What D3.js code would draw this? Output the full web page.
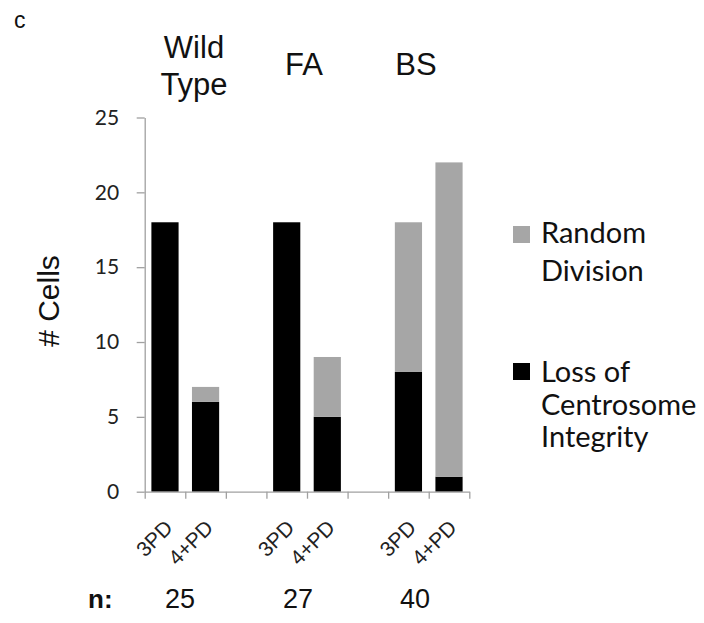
<!DOCTYPE html>
<html>
<head>
<meta charset="utf-8">
<script src="https://cdn.jsdelivr.net/npm/d3@7"></script>
<style>
  body { margin: 0; background: #fff; }
  svg { display: block; }
</style>
</head>
<body>
<svg id="chart"></svg>
<script>
// slots along the x axis (empty slots separate the groups)
const categories = ["WT 3PD", "WT 4+PD", "gap1", "FA 3PD", "FA 4+PD", "gap2", "BS 3PD", "BS 4+PD"];
const tickLabels = ["3PD", "4+PD", "", "3PD", "4+PD", "", "3PD", "4+PD"];
const lossValues = [18, 6, 0, 18, 5, 0, 8, 1];
const randomValues = [0, 1, 0, 0, 4, 0, 10, 21];
const groupNames = [["Wild", "Type"], ["FA"], ["BS"]];
const nCounts = [25, 27, 40];
const yTicks = [0, 5, 10, 15, 20, 25];

const width = 704, height = 623;
const colors = { loss: "#000000", random: "#a6a6a6" };

const svg = d3.select("#chart")
    .attr("width", width)
    .attr("height", height);

// scales
const x = d3.scaleBand()
    .domain(categories)
    .range([144.7, 469.3])
    .paddingInner(0.33)
    .paddingOuter(0.165);

const y = d3.scaleLinear()
    .domain([0, 25])
    .range([491.7, 117.5]);

const xEdge = d3.scaleLinear()
    .domain([0, categories.length])
    .range(x.range());

// stacked data
const rows = categories.map((c, i) => ({ key: c, loss: lossValues[i], random: randomValues[i] }));
const stack = d3.stack().keys(["loss", "random"]);
const stacked = stack(rows.filter(r => !r.key.startsWith("gap")));

svg.selectAll(".layer")
    .data(stacked)
    .enter()
    .append("g")
    .attr("class", "layer")
    .attr("fill", d => colors[d.key])
    .selectAll("rect")
    .data(d => d.filter(p => p[1] > p[0]))
    .enter()
    .append("rect")
    .attr("x", d => x(d.data.key))
    .attr("width", x.bandwidth())
    .attr("y", d => y(d[1]))
    .attr("height", d => y(d[0]) - y(d[1]));

// y axis
const yAxis = svg.append("g")
    .attr("transform", `translate(${x.range()[0]},0)`)
    .call(d3.axisLeft(y).tickValues(yTicks).tickSize(8).tickSizeOuter(0).tickPadding(17.5));
yAxis.selectAll("path, line").attr("stroke", "#a0a0a0").attr("stroke-width", 1.3);
yAxis.selectAll("text")
    .attr("font-family", "Lato, 'Open Sans', sans-serif")
    .attr("font-size", 21)
    .attr("fill", "#222");

// x axis: ticks at slot edges
const xAxis = svg.append("g")
    .attr("transform", `translate(0,${y(0)})`)
    .call(d3.axisBottom(xEdge).tickValues(d3.range(categories.length + 1)).tickFormat("").tickSize(7).tickSizeOuter(0));
xAxis.selectAll("path, line").attr("stroke", "#a0a0a0").attr("stroke-width", 1.3);

// rotated category labels
svg.append("g")
    .selectAll("text")
    .data(categories.map((c, i) => ({ key: c, label: tickLabels[i] })).filter(d => d.label))
    .enter()
    .append("text")
    .attr("transform", d => `translate(${x(d.key) + x.bandwidth() / 2 + 9},${529}) rotate(-45)`)
    .attr("text-anchor", "end")
    .attr("font-family", "'Liberation Sans', Arial, sans-serif")
    .attr("font-size", 21)
    .attr("fill", "#222")
    .text(d => d.label);

// y axis title
svg.append("text")
    .attr("transform", "translate(59,301) rotate(-90)")
    .attr("text-anchor", "middle")
    .attr("font-family", "'Liberation Sans', Arial, sans-serif")
    .attr("font-size", 30)
    .attr("fill", "#111")
    .text("# Cells");

// panel letter
svg.append("text")
    .attr("x", 14)
    .attr("y", 28)
    .attr("font-family", "'Liberation Sans', Arial, sans-serif")
    .attr("font-size", 23)
    .attr("fill", "#111")
    .text("c");

// group titles
const groupTitleX = [194, 304, 416];
const groupTitleY = [[58, 95], [75], [75]];
groupNames.forEach((lines, gi) => {
    lines.forEach((line, li) => {
        svg.append("text")
            .attr("x", groupTitleX[gi])
            .attr("y", groupTitleY[gi][li])
            .attr("text-anchor", "middle")
            .attr("font-family", "'Liberation Sans', Arial, sans-serif")
            .attr("font-size", 31)
            .attr("fill", "#111")
            .text(line);
    });
});

// n counts
svg.append("text")
    .attr("x", 88)
    .attr("y", 608)
    .attr("font-family", "'Liberation Sans', Arial, sans-serif")
    .attr("font-weight", "bold")
    .attr("font-size", 26)
    .attr("fill", "#111")
    .text("n:");

const nX = [180, 298, 415];
svg.append("g")
    .selectAll("text")
    .data(nCounts)
    .enter()
    .append("text")
    .attr("x", (d, i) => nX[i])
    .attr("y", 608)
    .attr("text-anchor", "middle")
    .attr("font-family", "'Liberation Sans', Arial, sans-serif")
    .attr("font-size", 27)
    .attr("fill", "#111")
    .text(d => d);

// legend
const legendItems = [
    { key: "random", lines: ["Random", "Division"], top: 226, baselines: [243, 281] },
    { key: "loss", lines: ["Loss of", "Centrosome", "Integrity"], top: 363, baselines: [382, 415, 447] }
];
const legend = svg.append("g");
legendItems.forEach(item => {
    legend.append("rect")
        .attr("x", 513)
        .attr("y", item.top)
        .attr("width", 17)
        .attr("height", 17)
        .attr("fill", colors[item.key]);
    item.lines.forEach((line, i) => {
        legend.append("text")
            .attr("x", 541)
            .attr("y", item.baselines[i])
            .attr("font-family", "Lato, 'Open Sans', sans-serif")
            .attr("font-size", 29)
            .attr("fill", "#111")
            .text(line);
    });
});
</script>
</body>
</html>
